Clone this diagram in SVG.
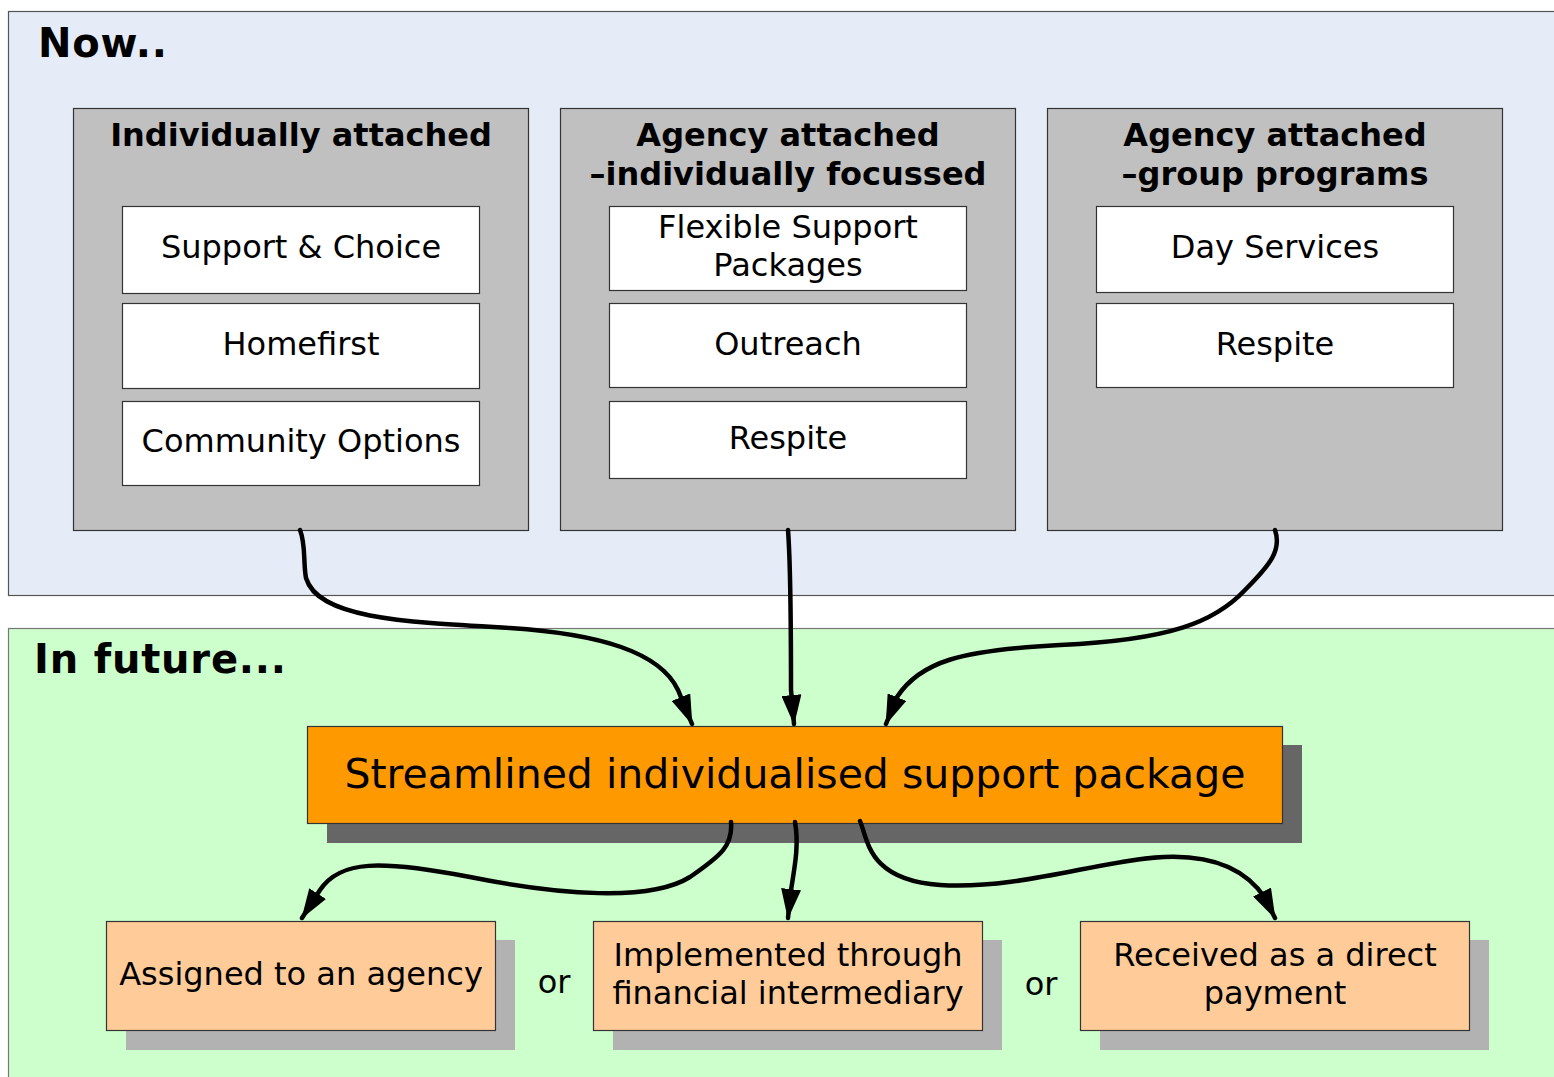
<svg xmlns="http://www.w3.org/2000/svg" width="1554" height="1077" viewBox="0 0 1554 1077">
<style>
text{font-family:"DejaVu Sans","Verdana",sans-serif;fill:#000;text-anchor:middle}
.h{font-weight:bold;font-size:40px;text-anchor:start;letter-spacing:0.8px}
.t{font-weight:bold;font-size:32px}
.r{font-size:32px}
.o{font-size:41px}
.grp{fill:#c0c0c0;stroke:#333;stroke-width:1.2}
.item{fill:#fff;stroke:#333;stroke-width:1.2}
.pk{fill:#ffcc99;stroke:#333;stroke-width:1.2}
.pks{fill:#b2b2b2}
.conn{fill:none;stroke:#000;stroke-width:4.5;stroke-linecap:round}
</style>
<defs>
<marker id="ah" viewBox="0 0 30 20" refX="29" refY="10" markerWidth="30" markerHeight="20" markerUnits="userSpaceOnUse" orient="auto">
<path d="M0,0 L30,10 L0,20 z" fill="#000"/>
</marker>
</defs>
<rect width="1554" height="1077" fill="#fff"/>
<g id="now-panel">
<rect x="8.5" y="11.5" width="1560" height="584" fill="#e6ecf7" stroke="#555" stroke-width="1.2"/>
<text class="h" x="38" y="57">Now..</text>
</g>
<g id="future-panel">
<rect x="8.5" y="628.5" width="1560" height="460" fill="#ccffcc" stroke="#777" stroke-width="1.2"/>
<text class="h" x="34" y="673">In future...</text>
</g>
<g id="individually-attached">
<rect class="grp" x="73.5" y="108.5" width="455" height="422"/>
<text class="t" x="301" y="146">Individually attached</text>
</g>
<g id="support-choice">
<rect class="item" x="122.5" y="206.5" width="357" height="87"/>
<text class="r" x="301" y="258">Support &amp; Choice</text>
</g>
<g id="homefirst">
<rect class="item" x="122.5" y="303.5" width="357" height="85"/>
<text class="r" x="301" y="355">Homefirst</text>
</g>
<g id="community-options">
<rect class="item" x="122.5" y="401.5" width="357" height="84"/>
<text class="r" x="301" y="452">Community Options</text>
</g>
<g id="agency-individual">
<rect class="grp" x="560.5" y="108.5" width="455" height="422"/>
<text class="t" x="788" y="146">Agency attached</text>
<text class="t" x="788" y="185">–individually focussed</text>
</g>
<g id="flexible-support">
<rect class="item" x="609.5" y="206.5" width="357" height="84"/>
<text class="r" x="788" y="238">Flexible Support</text>
<text class="r" x="788" y="276">Packages</text>
</g>
<g id="outreach">
<rect class="item" x="609.5" y="303.5" width="357" height="84"/>
<text class="r" x="788" y="355">Outreach</text>
</g>
<g id="respite-1">
<rect class="item" x="609.5" y="401.5" width="357" height="77"/>
<text class="r" x="788" y="449">Respite</text>
</g>
<g id="agency-group">
<rect class="grp" x="1047.5" y="108.5" width="455" height="422"/>
<text class="t" x="1275" y="146">Agency attached</text>
<text class="t" x="1275" y="185">–group programs</text>
</g>
<g id="day-services">
<rect class="item" x="1096.5" y="206.5" width="357" height="86"/>
<text class="r" x="1275" y="258">Day Services</text>
</g>
<g id="respite-2">
<rect class="item" x="1096.5" y="303.5" width="357" height="84"/>
<text class="r" x="1275" y="355">Respite</text>
</g>
<g id="streamlined">
<rect x="327" y="745" width="975" height="98" fill="#666"/>
<rect x="307.5" y="726.5" width="975" height="97" fill="#ff9900" stroke="#333" stroke-width="1.2"/>
<text class="o" x="795" y="788">Streamlined individualised support package</text>
</g>
<g id="assigned">
<rect class="pks" x="126" y="940" width="389" height="110"/>
<rect class="pk" x="106.5" y="921.5" width="389" height="109"/>
<text class="r" x="301" y="985">Assigned to an agency</text>
</g>
<g id="implemented">
<rect class="pks" x="613" y="940" width="389" height="110"/>
<rect class="pk" x="593.5" y="921.5" width="389" height="109"/>
<text class="r" x="788" y="966">Implemented through</text>
<text class="r" x="788" y="1004">financial intermediary</text>
</g>
<g id="received">
<rect class="pks" x="1100" y="940" width="389" height="110"/>
<rect class="pk" x="1080.5" y="921.5" width="389" height="109"/>
<text class="r" x="1275" y="966">Received as a direct</text>
<text class="r" x="1275" y="1004">payment</text>
</g>
<g id="or-labels">
<text class="r" x="554" y="993">or</text>
<text class="r" x="1041" y="995">or</text>
</g>
<g id="connectors">
<path class="conn" marker-end="url(#ah)" d="M300,530 C306,545 303,562 306,578 C318,618 400,622 510,628 C600,634 660,652 678,690 L692,724"/>
<path class="conn" marker-end="url(#ah)" d="M788,530 C791,570 791,640 791,690 L794,724"/>
<path class="conn" marker-end="url(#ah)" d="M1275,530 C1282,550 1270,565 1245,590 C1215,622 1170,640 1060,645 C960,650 920,662 897,697 L886,724"/>
<path class="conn" marker-end="url(#ah)" d="M731,822 C733,845 722,855 690,877 C650,902 560,895 470,877 C380,860 340,860 320,890 L302,918"/>
<path class="conn" marker-end="url(#ah)" d="M795,822 C799,845 795,865 791,890 L788,918"/>
<path class="conn" marker-end="url(#ah)" d="M860,821 C868,840 868,880 940,885 C1020,890 1100,860 1164,857 C1210,855 1245,868 1265,898 L1275,918"/>
</g>
</svg>
